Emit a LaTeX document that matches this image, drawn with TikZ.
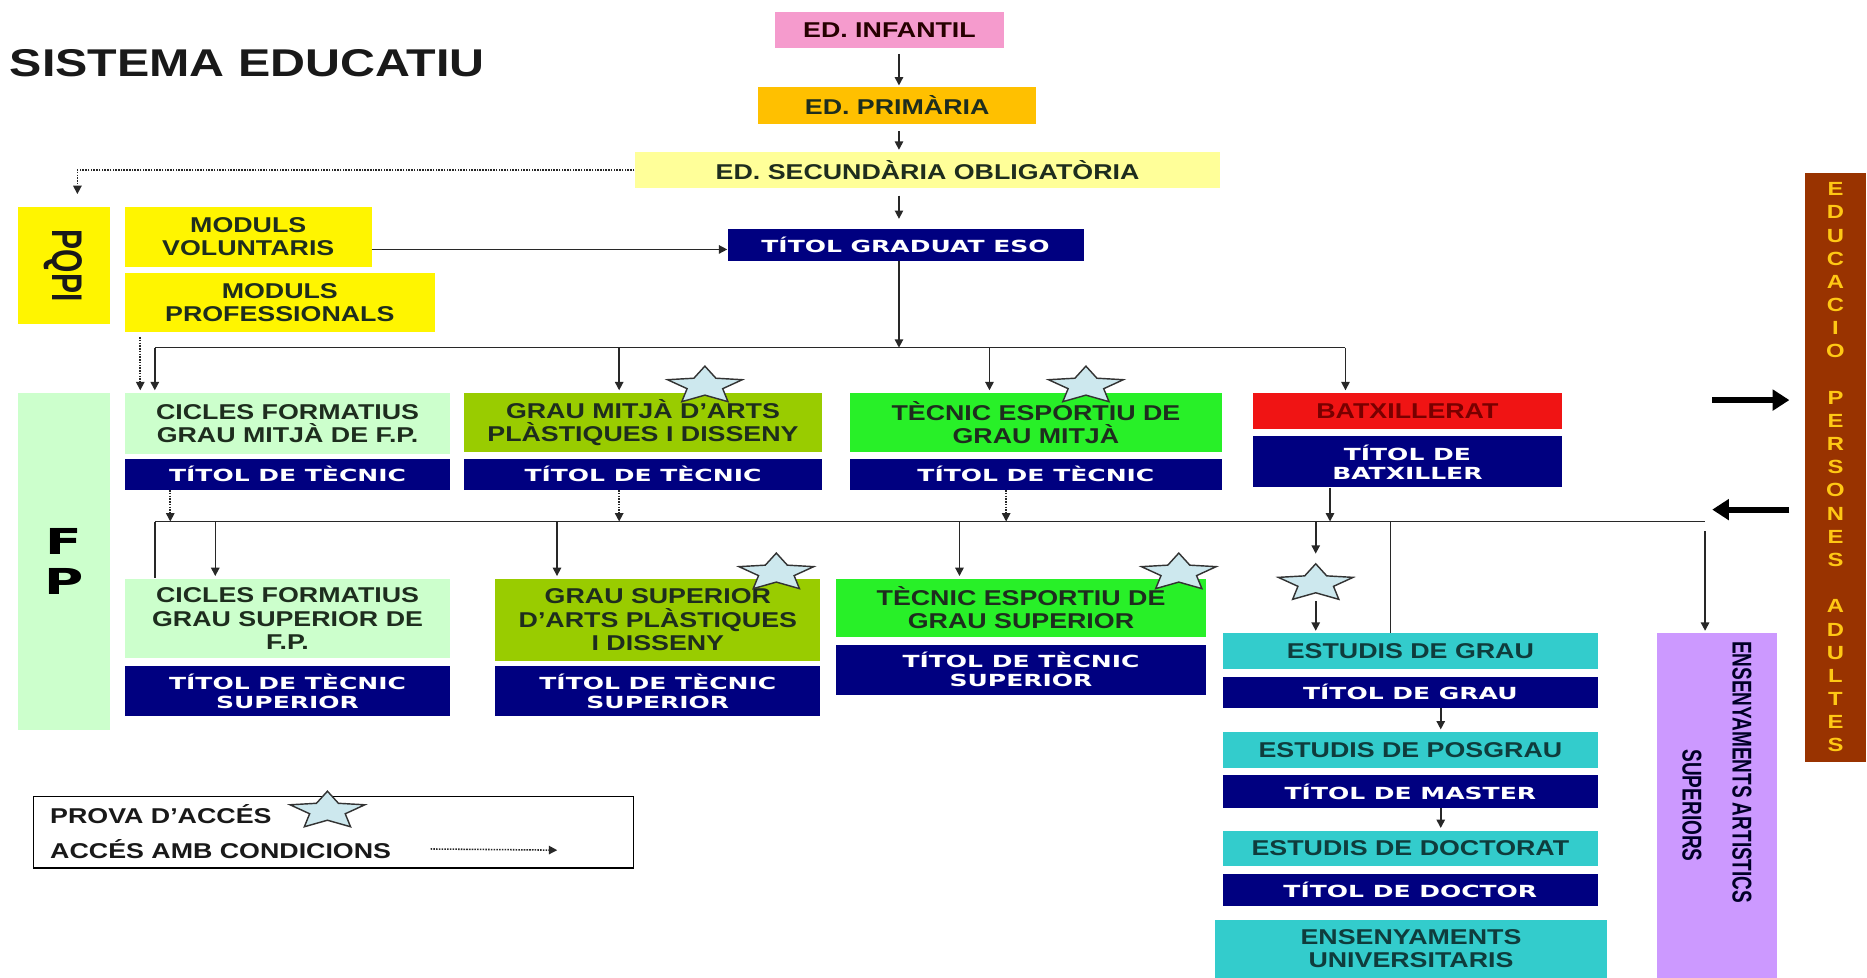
\documentclass[tikz,border=0pt]{standalone}
\usepackage{fontspec}
\setmainfont{Liberation Sans}[FakeStretch=1.25]
\newfontfamily\titfont{DejaVu Sans}[FakeStretch=1.5]
\newfontfamily\rotfont{Liberation Sans}[FakeStretch=0.7]
\usepackage{tikz}
\usetikzlibrary{positioning, calc}
\usetikzlibrary{shapes, arrows.meta}

\definecolor{infantcol}{RGB}{245,155,205}
\definecolor{primcol}{RGB}{255,192,0}
\definecolor{secucol}{RGB}{255,255,153}
\definecolor{navycol}{RGB}{0,0,128}
\definecolor{pqpicol}{RGB}{255,245,0}
\definecolor{palegreen}{RGB}{204,255,204}
\definecolor{olivecol}{RGB}{153,204,0}
\definecolor{sportcol}{RGB}{40,240,40}
\definecolor{batxcol}{RGB}{240,20,20}
\definecolor{batxtxt}{RGB}{120,0,0}
\definecolor{tealcol}{RGB}{51,204,204}
\definecolor{tealtxt}{RGB}{15,60,60}
\definecolor{lilaccol}{RGB}{204,153,255}
\definecolor{browncol}{RGB}{153,51,0}
\definecolor{goldtxt}{RGB}{255,200,20}
\definecolor{starcol}{RGB}{205,232,238}
\definecolor{linecol}{RGB}{40,40,40}
\definecolor{darktxt}{RGB}{30,45,30}

\tikzstyle{arrow}=[line width=1.3pt, draw=linecol, -{Triangle[length=7pt,width=7pt]}]
\tikzstyle{dotarrow}=[arrow, densely dotted]
\tikzstyle{line}=[line width=1.3pt, draw=linecol]
\tikzstyle{bigarrow}=[line width=5pt, draw=black, -{Triangle[length=14pt,width=17pt]}]
\tikzstyle{level}=[rectangle, inner sep=2pt, minimum height=30pt, align=center, text=darktxt, font=\bfseries\fontsize{18}{19.5}\selectfont]
\tikzstyle{titol}=[rectangle, fill=navycol, inner sep=2pt, minimum height=26pt, align=center, text=white, font=\titfont\bfseries\fontsize{14}{16}\selectfont]
\tikzstyle{prova}=[star, star points=5, star point ratio=2.1, minimum size=33pt, inner sep=0pt, draw=black!80, line width=1.2pt, fill=starcol, transform shape]

\newcommand{\provastar}[3]{%
    \begin{scope}[shift={(#2,#3)}, xscale=2]
        \node[prova] (#1) at (0,0) {};
    \end{scope}}

\begin{document}
\begin{tikzpicture}[x=1pt, y=-1pt, node distance=6pt]
        \path[use as bounding box, fill=white] (0,0) rectangle (1568,821);

        \node[anchor=west, inner sep=0pt, text=black!90, font=\bfseries\fontsize{32.5}{34}\selectfont] (title) at (8,53) {SISTEMA EDUCATIU};

        % Draw the blocks
        \node[level, fill=infantcol, text=black!85!red, minimum width=192pt] (infantil) at (747,25) {ED. INFANTIL};
        \node[level, fill=primcol, minimum width=233pt, minimum height=31pt] (primaria) at (753.5,88.5) {ED. PRIMÀRIA};
        \node[level, fill=secucol, minimum width=492pt] (secundaria) at (779,143) {ED. SECUNDÀRIA OBLIGATÒRIA};
        \node[titol, minimum width=299pt, minimum height=27pt] (eso) at (760.5,205.5) {TÍTOL GRADUAT ESO};

        \node[rotate=-90, fill=pqpicol, minimum width=98pt, minimum height=77pt, text=black!90, font=\rotfont\bfseries\fontsize{36}{36}\selectfont] (pqpi) at (53.5,223) {PQPI};
        \node[level, fill=pqpicol, minimum width=207pt, minimum height=50pt] (volunt) at (208.5,199) {MODULS\\VOLUNTARIS};
        \node[level, fill=pqpicol, minimum width=260pt, minimum height=50pt] (profes) at (235,254) {MODULS\\PROFESSIONALS};

        \node[fill=palegreen, minimum width=77pt, minimum height=283pt, align=center, font=\titfont\bfseries\fontsize{30}{33}\selectfont] (fp) at (53.5,471.5) {F\\P};

        \node[level, fill=palegreen, minimum width=273pt, minimum height=51pt] (cfgm) at (241.5,355.5) {CICLES FORMATIUS\\GRAU MITJÀ DE F.P.};
        \node[titol, below=4pt of cfgm, minimum width=273pt] (tcfgm) {TÍTOL DE TÈCNIC};
        \node[level, fill=olivecol, minimum width=300pt, minimum height=50pt] (gmapd) at (540,355) {GRAU MITJÀ D’ARTS\\PLÀSTIQUES I DISSENY};
        \node[titol, below=5pt of gmapd, minimum width=300pt] (tgmapd) {TÍTOL DE TÈCNIC};
        \node[level, fill=sportcol, minimum width=312pt, minimum height=50pt] (tegm) at (870,355) {TÈCNIC ESPORTIU DE\\GRAU MITJÀ};
        \node[titol, below=5pt of tegm, minimum width=312pt] (ttegm) {TÍTOL DE TÈCNIC};
        \node[level, fill=batxcol, text=batxtxt, minimum width=260pt] (batx) at (1182,345) {BATXILLERAT};
        \node[titol, below=of batx, minimum width=260pt, minimum height=43pt] (tbatx) {TÍTOL DE\\BATXILLER};

        \node[level, fill=palegreen, minimum width=273pt, minimum height=67pt] (cfgs) at (241.5,519.5) {CICLES FORMATIUS\\GRAU SUPERIOR DE\\F.P.};
        \node[titol, below=of cfgs, minimum width=273pt, minimum height=42pt] (tcfgs) {TÍTOL DE TÈCNIC\\SUPERIOR};
        \node[level, fill=olivecol, minimum width=273pt, minimum height=69pt] (gsapd) at (552.5,520.5) {GRAU SUPERIOR\\D’ARTS PLÀSTIQUES\\I DISSENY};
        \node[titol, below=4pt of gsapd, minimum width=273pt, minimum height=42pt] (tgsapd) {TÍTOL DE TÈCNIC\\SUPERIOR};
        \node[level, fill=sportcol, minimum width=311pt, minimum height=49pt] (tegs) at (857.5,510.5) {TÈCNIC ESPORTIU DE\\GRAU SUPERIOR};
        \node[titol, below=of tegs, minimum width=311pt, minimum height=42pt] (ttegs) {TÍTOL DE TÈCNIC\\SUPERIOR};

        \node[level, fill=tealcol, text=tealtxt, minimum width=315pt] (grau) at (1184.5,547) {ESTUDIS DE GRAU};
        \node[titol, below=of grau, minimum width=315pt] (tgrau) {TÍTOL DE GRAU};
        \node[level, fill=tealcol, text=tealtxt, below=20pt of tgrau, minimum width=315pt] (posgrau) {ESTUDIS DE POSGRAU};
        \node[titol, below=of posgrau, minimum width=315pt, minimum height=27pt] (tposgrau) {TÍTOL DE MASTER};
        \node[level, fill=tealcol, text=tealtxt, below=19pt of tposgrau, minimum width=315pt] (doctorat) {ESTUDIS DE DOCTORAT};
        \node[titol, below=of doctorat, minimum width=315pt, minimum height=27pt] (tdoctorat) {TÍTOL DE DOCTOR};
        \node[level, fill=tealcol, text=tealtxt, minimum width=330pt, minimum height=48pt] (univ) at (1185,797) {ENSENYAMENTS\\UNIVERSITARIS};

        \node[rotate=-90, fill=lilaccol, minimum width=289pt, minimum height=100pt, align=center, text=black!85!blue, font=\rotfont\bfseries\fontsize{22.8}{24}\selectfont] (artistic) at (1442,676.5) {ENSENYAMENTS ARTISTICS\kern56pt\\[18pt]SUPERIORS};

        \node[fill=browncol, minimum width=51pt, minimum height=495pt, align=center, text=goldtxt, font=\bfseries\fontsize{16}{19.46}\selectfont] (adults) at (1541.5,392.5) {E\\D\\U\\C\\A\\C\\I\\O\\[19.46pt]P\\E\\R\\S\\O\\N\\E\\S\\[19.46pt]A\\D\\U\\L\\T\\E\\S};

        % legend
        \node[draw=black, line width=1.3pt, fill=white, minimum width=504pt, minimum height=60pt] (legend) at (280,699) {};
        \node[anchor=west, inner sep=0pt, text=black!90, font=\bfseries\fontsize{18}{19}\selectfont] (provatxt) at (42,684) {PROVA D’ACCÉS};
        \node[anchor=west, inner sep=0pt, text=black!90, font=\bfseries\fontsize{18}{19}\selectfont] (condtxt) at (42,713) {ACCÉS AMB CONDICIONS};
        \coordinate (condend) at (468,714);
        \draw[dotarrow] ([xshift=33pt]condtxt.east) -- (condend);

        % compulsory path
        \coordinate (spine) at (755,0);
        \draw[arrow, shorten <=5pt, shorten >=1pt] (infantil.south -| spine) -- (primaria.north -| spine);
        \draw[arrow, shorten <=6pt, shorten >=2pt] (primaria.south -| spine) -- (secundaria.north -| spine);
        \draw[arrow, shorten <=6pt, shorten >=8pt] (secundaria.south -| spine) -- (eso.north -| spine);

        \coordinate (pqpiin) at (65,163);
        \draw[dotarrow] (secundaria.west) -| (pqpiin);
        \draw[arrow] ([yshift=-4pt]eso.west -| volunt.east) -- ([yshift=-4pt]eso.west);

        % first bus
        \coordinate (bus1l) at (130,292);
        \coordinate (bus1r) at (1130,292);
        \draw[line] (bus1l) -- (bus1r);
        \draw[arrow] (eso.south -| spine) -- (spine |- bus1l);
        \draw[arrow, shorten >=2pt] (bus1l) -- (bus1l |- cfgm.north);
        \draw[arrow, shorten >=2pt] ([xshift=-20pt]gmapd.north |- bus1l) -- ([xshift=-20pt]gmapd.north);
        \draw[arrow, shorten >=2pt] ([xshift=-39pt]tegm.north |- bus1l) -- ([xshift=-39pt]tegm.north);
        \draw[arrow, shorten >=2pt] (bus1r) -- (bus1r |- batx.north);
        \draw[dotarrow, shorten <=4pt, shorten >=2pt] ([xshift=13pt]profes.south west) -- ([xshift=13pt]cfgm.north west);

        % second bus
        \coordinate (bus2l) at (130,438);
        \coordinate (bus2r) at (1432,438);
        \draw[line] (bus2l) -- (bus2r);
        \draw[line] (bus2l) -- (bus2l |- cfgs.north);
        \draw[dotarrow] ([xshift=-98.5pt]tcfgm.south) -- ([xshift=-98.5pt]tcfgm.south |- bus2l);
        \draw[dotarrow] ([xshift=-20pt]tgmapd.south) -- ([xshift=-20pt]tgmapd.south |- bus2l);
        \draw[dotarrow] ([xshift=-25pt]ttegm.south) -- ([xshift=-25pt]ttegm.south |- bus2l);
        \draw[arrow] ([xshift=-65pt]tbatx.south) -- ([xshift=-65pt]tbatx.south |- bus2l);
        \draw[arrow, shorten >=2pt] ([xshift=76pt]cfgs.north west |- bus2l) -- ([xshift=76pt]cfgs.north west);
        \draw[arrow, shorten >=2pt] ([xshift=52pt]gsapd.north west |- bus2l) -- ([xshift=52pt]gsapd.north west);
        \draw[arrow, shorten >=2pt] ([xshift=104pt]tegs.north west |- bus2l) -- ([xshift=104pt]tegs.north west);
        \draw[line] ([xshift=141pt]grau.north west |- bus2l) -- ([xshift=141pt]grau.north west);
        \draw[arrow, shorten <=8pt, shorten >=2pt] (bus2r) -- (bus2r |- artistic.west);

        \draw[arrow, shorten >=2pt] ([xshift=25.5pt]tgrau.south) -- ([xshift=25.5pt]posgrau.north);
        \draw[arrow, shorten >=2pt] ([xshift=25.5pt]tposgrau.south) -- ([xshift=25.5pt]doctorat.north);

        % adult education
        \coordinate (toadult) at (1438,336);
        \coordinate (fromadult) at (1438,428);
        \draw[bigarrow, shorten >=13pt] (toadult) -- (toadult -| adults.west);
        \draw[bigarrow, shorten <=13pt] (fromadult -| adults.west) -- (fromadult);

        % access tests
        \foreach \n/\sx/\sy in {1/592/324, 2/912/324, 3/652/481, 4/990/481, 5/1105/490, 6/275/681} {
            \provastar{star\n}{\sx}{\sy}
        }
        \draw[arrow, shorten >=25pt] (star5.center |- bus2l) -- (star5.center);
        \draw[arrow, shorten <=15pt, shorten >=2pt] (star5.center) -- (star5.center |- grau.north);

    \end{tikzpicture}
\end{document}
